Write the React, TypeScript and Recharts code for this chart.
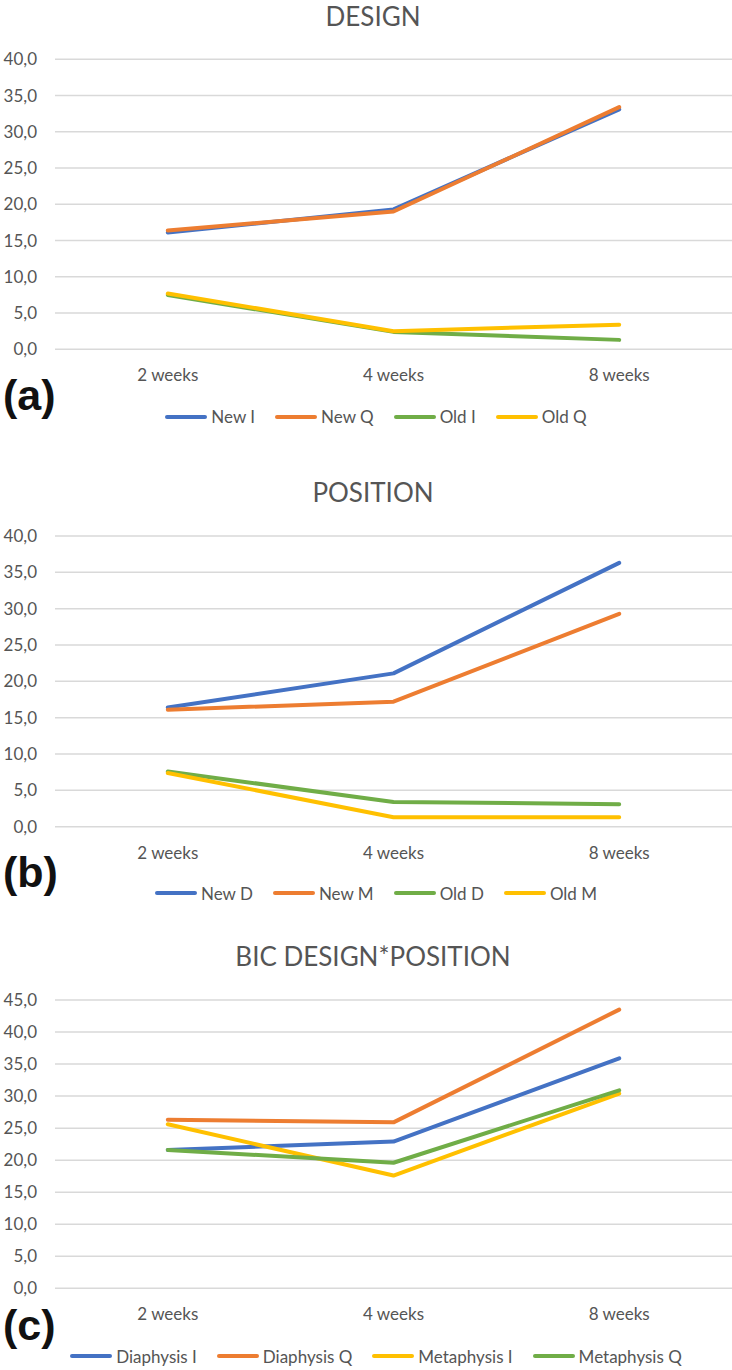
import { LineChart, Line, XAxis, YAxis, CartesianGrid } from 'recharts';

const weeks = ['2 weeks', '4 weeks', '8 weeks'];

// (a) DESIGN
const designNames = ['New I', 'New Q', 'Old I', 'Old Q'];
const designNewI = [16.1, 19.3, 33.1];
const designNewQ = [16.4, 19.0, 33.4];
const designOldI = [7.5, 2.4, 1.3];
const designOldQ = [7.7, 2.5, 3.4];

// (b) POSITION
const positionNames = ['New D', 'New M', 'Old D', 'Old M'];
const positionNewD = [16.4, 21.1, 36.3];
const positionNewM = [16.1, 17.2, 29.3];
const positionOldD = [7.6, 3.4, 3.1];
const positionOldM = [7.4, 1.3, 1.3];

// (c) BIC DESIGN*POSITION
const bicNames = ['Diaphysis I', 'Diaphysis Q', 'Metaphysis I', 'Metaphysis Q'];
const bicDiaphysisI = [21.6, 22.9, 35.9];
const bicDiaphysisQ = [26.3, 25.9, 43.5];
const bicMetaphysisI = [25.6, 17.6, 30.4];
const bicMetaphysisQ = [21.6, 19.6, 30.9];

const ticks40 = [0, 5, 10, 15, 20, 25, 30, 35, 40];
const ticks45 = [0, 5, 10, 15, 20, 25, 30, 35, 40, 45];

const BLUE = '#4472C4';
const ORANGE = '#ED7D31';
const GREEN = '#70AD47';
const YELLOW = '#FFC000';
const TEXT = '#555555';
const FONT = 'Lato, "Open Sans", sans-serif';

const toRows = (cols: number[][]) =>
    weeks.map((week, i) => {
        const row: Record<string, string | number> = { week };
        cols.forEach((col, j) => (row['s' + j] = col[i]));
        return row;
    });

type PanelProps = {
    top: number;
    height: number;
    title: string;
    titleY: number;
    tag: string;
    tagY: number;
    names: string[];
    colors: string[];
    cols: number[][];
    yTicks: number[];
    plotTop: number;
    plotBottom: number;
    legendY: number;
};

const Panel = ({ top, height, title, titleY, tag, tagY, names, colors, cols, yTicks, plotTop, plotBottom, legendY }: PanelProps) => {
    const data = toRows(cols);
    const xAxisHeight = 40;
    return (
        <div style={{ position: 'absolute', left: 0, top, width: 732, height }}>
            <LineChart
                width={732}
                height={height}
                data={data}
                margin={{ top: plotTop, right: 0, left: 0, bottom: height - plotBottom - xAxisHeight }}
            >
                <CartesianGrid vertical={false} stroke="#d9d9d9" strokeWidth={1.5} />
                <XAxis
                    dataKey="week"
                    height={xAxisHeight}
                    padding={{ left: 112.8, right: 112.8 }}
                    axisLine={false}
                    tickLine={false}
                    tickSize={0}
                    tickMargin={20}
                    tick={{ fontSize: 17, fill: TEXT, fontFamily: FONT }}
                />
                <YAxis
                    width={55}
                    domain={[0, yTicks[yTicks.length - 1]]}
                    ticks={yTicks}
                    interval={0}
                    axisLine={false}
                    tickLine={false}
                    tickSize={0}
                    tickMargin={18}
                    tickFormatter={(v: number) => v.toFixed(1).replace('.', ',')}
                    tick={{ fontSize: 17, fill: TEXT, fontFamily: FONT }}
                />
                {names.map((name, j) => (
                    <Line
                        key={name}
                        name={name}
                        dataKey={'s' + j}
                        stroke={colors[j]}
                        strokeWidth={4}
                        strokeLinejoin="round"
                        strokeLinecap="round"
                        dot={false}
                        activeDot={false}
                        isAnimationActive={false}
                    />
                ))}
            </LineChart>
            <div
                style={{
                    position: 'absolute', left: 0, width: 746, top: titleY - 16, lineHeight: '32px',
                    textAlign: 'center', fontSize: 26, color: TEXT, fontFamily: FONT,
                }}
            >
                {title}
            </div>
            <div
                style={{
                    position: 'absolute', left: 3, top: tagY - 25, lineHeight: 1,
                    fontSize: 43, fontWeight: 'bold', color: '#111', fontFamily: '"Liberation Sans", Arial, sans-serif',
                }}
            >
                {tag}
            </div>
            <div
                style={{
                    position: 'absolute', left: 0, width: 752, top: legendY - 12, height: 24,
                    display: 'flex', justifyContent: 'center', alignItems: 'center', gap: 20,
                    fontSize: 17, color: TEXT, fontFamily: FONT,
                }}
            >
                {names.map((name, j) => (
                    <span key={name} style={{ display: 'flex', alignItems: 'center' }}>
                        <span style={{ display: 'inline-block', width: 42, height: 4, borderRadius: 2, background: colors[j], marginRight: 4 }} />
                        {name}
                    </span>
                ))}
            </div>
        </div>
    );
};

export default function App() {
    return (
        <div style={{ position: 'absolute', left: 0, top: 0, width: 732, height: 1370, background: '#fff' }}>
            <Panel
                top={0}
                height={440}
                title="DESIGN"
                titleY={15.5}
                tag="(a)"
                tagY={399}
                names={designNames}
                colors={[BLUE, ORANGE, GREEN, YELLOW]}
                cols={[designNewI, designNewQ, designOldI, designOldQ]}
                yTicks={ticks40}
                plotTop={59.3}
                plotBottom={349.3}
                legendY={416.7}
            />
            <Panel
                top={440}
                height={460}
                title="POSITION"
                titleY={51.7}
                tag="(b)"
                tagY={436}
                names={positionNames}
                colors={[BLUE, ORANGE, GREEN, YELLOW]}
                cols={[positionNewD, positionNewM, positionOldD, positionOldM]}
                yTicks={ticks40}
                plotTop={96}
                plotBottom={386.7}
                legendY={453}
            />
            <Panel
                top={900}
                height={470}
                title="BIC DESIGN*POSITION"
                titleY={56}
                tag="(c)"
                tagY={429}
                names={bicNames}
                colors={[BLUE, ORANGE, YELLOW, GREEN]}
                cols={[bicDiaphysisI, bicDiaphysisQ, bicMetaphysisI, bicMetaphysisQ]}
                yTicks={ticks45}
                plotTop={100}
                plotBottom={388.3}
                legendY={456}
            />
        </div>
    );
}
